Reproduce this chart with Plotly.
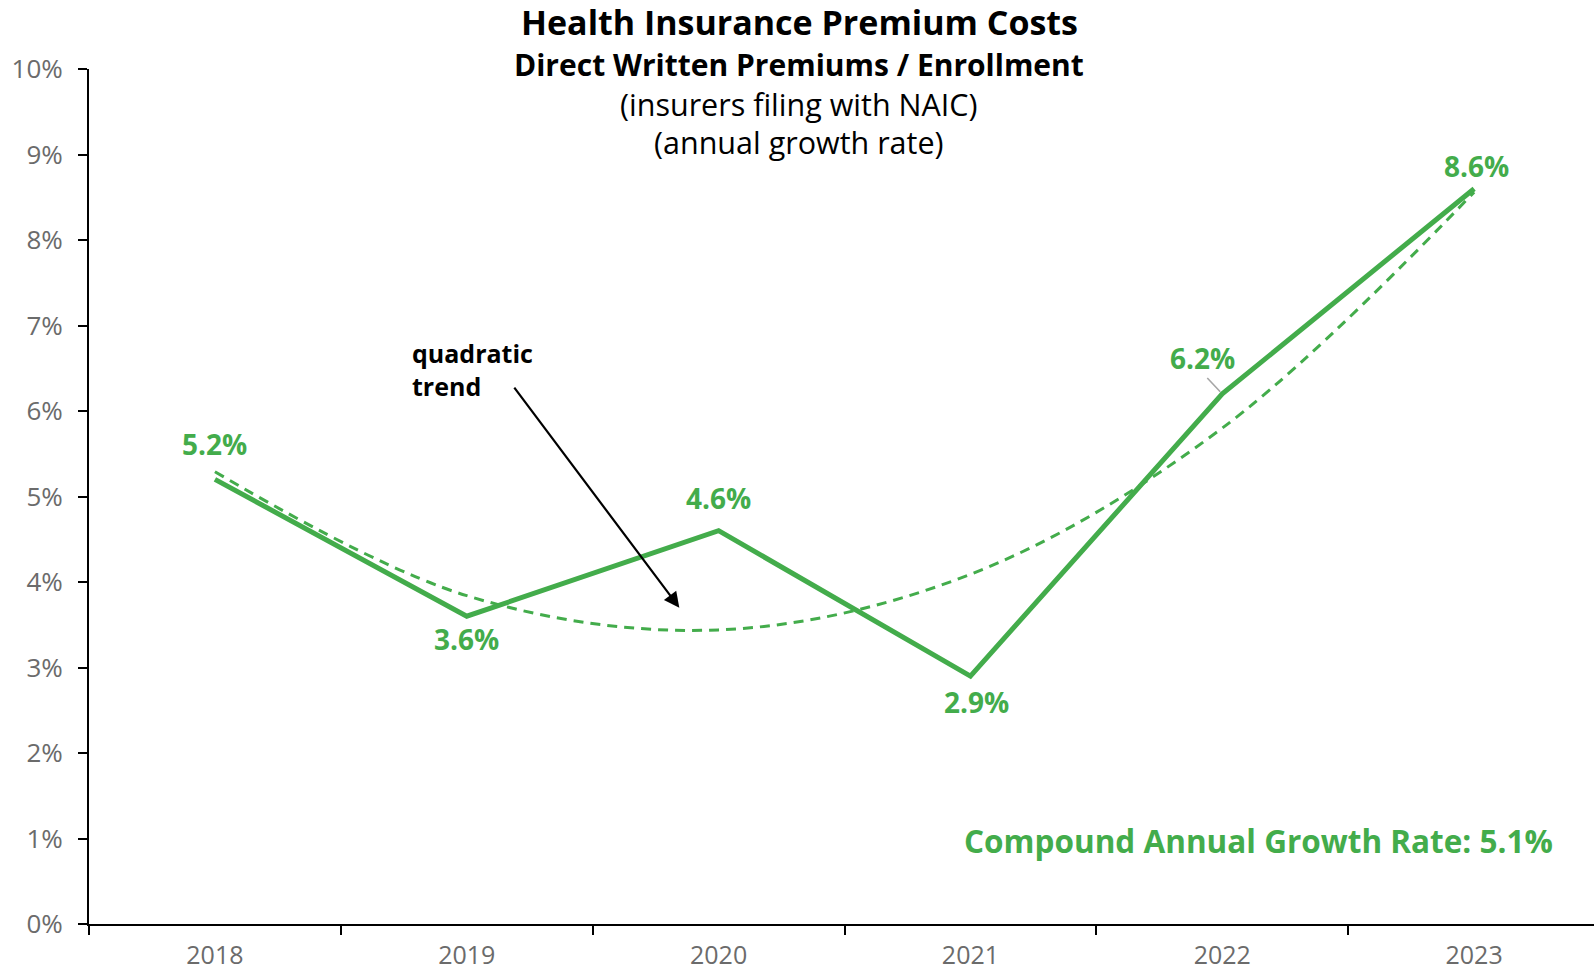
import plotly.graph_objects as go

# Annual growth rate of direct written premiums per enrollee (%)
years = ["2018", "2019", "2020", "2021", "2022", "2023"]
growth = [5.2, 3.6, 4.6, 2.9, 6.2, 8.6]
# Quadratic trend through the same years (%)
trend = [5.29, 3.84, 3.44, 4.09, 5.80, 8.56]
y_ticks = [0, 1, 2, 3, 4, 5, 6, 7, 8, 9, 10]
y_tick_text = [f"{v}%" for v in y_ticks]
cagr = 5.1

GREEN = "#43AC4B"
FONT = "Open Sans"

fig = go.Figure()

fig.add_trace(go.Scatter(
    x=years, y=trend, mode="lines",
    line=dict(color=GREEN, width=3, dash="10px,7px", shape="spline"),
    hoverinfo="skip", showlegend=False,
))
fig.add_trace(go.Scatter(
    x=years, y=growth, mode="lines",
    line=dict(color=GREEN, width=5),
    showlegend=False,
))

# Value labels: (x shift, y shift) in pixels around each point
label_offsets = [(0, 35), (0, -23), (0, 33), (6, -26), (-20, 36), (2, 23)]
for i, (val, (dx, dy)) in enumerate(zip(growth, label_offsets)):
    fig.add_annotation(
        x=i, y=val, xref="x", yref="y", text=f"<b>{val:.1f}%</b>",
        showarrow=False, xshift=dx, yshift=dy,
        font=dict(family=FONT, size=28, color=GREEN),
    )

# Leader line for the 2022 label
fig.add_annotation(
    x=4, y=growth[4], xref="x", yref="y", text=" ",
    showarrow=True, arrowhead=0, arrowwidth=1.6, arrowcolor="#a6a6a6",
    ax=-18, ay=-19, standoff=3,
)

# Trend callout
fig.add_annotation(
    x=0.775, y=6.48, xref="x", yref="y",
    text="<b>quadratic<br>trend</b>", showarrow=False, align="left",
    xanchor="left", yanchor="middle",
    font=dict(family=FONT, size=25, color="black"),
)
fig.add_annotation(
    x=1.844, y=3.70, xref="x", yref="y", text=" ",
    showarrow=True, arrowhead=2, arrowsize=1.4, arrowwidth=2.2,
    arrowcolor="black", ax=-168, ay=-224,
)

# Compound annual growth rate note
fig.add_annotation(
    x=0.974, y=0.098, xref="paper", yref="paper",
    text=f"<b>Compound Annual Growth Rate: {cagr:.1f}%</b>",
    showarrow=False, xanchor="right", yanchor="middle",
    font=dict(family=FONT, size=31.5, color=GREEN),
)

# Title block
title_lines = [
    ("<b>Health Insurance Premium Costs</b>", 34, 1.0545),
    ("<b>Direct Written Premiums / Enrollment</b>", 30, 1.0047),
    ("(insurers filing with NAIC)", 30.5, 0.9594),
    ("(annual growth rate)", 30.5, 0.9142),
]
for txt, size, ypos in title_lines:
    fig.add_annotation(
        x=(799 - 89) / 1505, y=ypos, xref="paper", yref="paper",
        text=txt, showarrow=False, xanchor="center", yanchor="middle",
        font=dict(family=FONT, size=size, color="black"),
    )

fig.update_layout(
    width=1594, height=971,
    margin=dict(l=89, r=0, t=69, b=47, autoexpand=False),
    paper_bgcolor="white", plot_bgcolor="white",
    font=dict(family=FONT),
    xaxis=dict(
        type="category", range=[-0.5, 5.476], automargin=False,
        tickson="boundaries", ticks="outside", ticklen=9, tickwidth=2,
        tickcolor="black", showline=True, linecolor="black", linewidth=2,
        showgrid=False, zeroline=False,
        tickfont=dict(family=FONT, size=25, color="#6b6b6b"),
        ticklabelstandoff=8,
    ),
    yaxis=dict(
        range=[0, 10], tickvals=y_ticks, ticktext=y_tick_text,
        automargin=False,
        ticks="outside", ticklen=9, tickwidth=2, tickcolor="black",
        showline=True, linecolor="black", linewidth=2,
        showgrid=False, zeroline=False,
        tickfont=dict(family=FONT, size=26, color="#6b6b6b"),
        ticklabelstandoff=10,
    ),
)

fig.write_html("out.html")
